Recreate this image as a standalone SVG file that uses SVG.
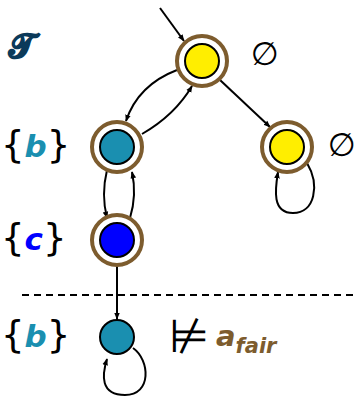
<svg xmlns="http://www.w3.org/2000/svg" width="358" height="397" viewBox="0 0 358 397">
<style>
.ring{fill:#fff;stroke:#7d5c2e;stroke-width:4}
.in{stroke:#000;stroke-width:2}
.e{fill:none;stroke:#000;stroke-width:2}
.br{font-family:"DejaVu Sans",sans-serif;font-size:37px;fill:#000}
.lab{font-family:"DejaVu Sans",sans-serif;font-size:31px;font-weight:bold;font-style:italic}
.sym{font-family:"DejaVu Sans",sans-serif;font-size:32px;fill:#000;text-anchor:middle}
</style>
<defs>
<marker id="ah" viewBox="0 0 10 10" refX="9" refY="5" markerWidth="7" markerHeight="7" orient="auto" markerUnits="userSpaceOnUse">
<path d="M0,1 L10,5 L0,9 z" fill="#000"/>
</marker>
</defs>
<rect width="358" height="397" fill="#fff"/>
<text x="9" y="58" style="font-family:'DejaVu Serif',serif;font-size:34px;font-weight:bold;fill:#0b3a5a;stroke:#0b3a5a;stroke-width:1.6">𝒯</text>
<line x1="22" y1="295" x2="358" y2="295" stroke="#000" stroke-width="2" stroke-dasharray="7,5"/>
<g id="connectors">
<line class="e" x1="160" y1="8" x2="184" y2="41" marker-end="url(#ah)"/>
<path class="e" d="M177,70 Q138,85 126,121" marker-end="url(#ah)"/>
<path class="e" d="M142,134 Q175,115 192,86" marker-end="url(#ah)"/>
<line class="e" x1="220" y1="80" x2="270" y2="127" marker-end="url(#ah)"/>
<path class="e" d="M307,163 C320,185 315,213 293,213 C272,213 275,190 278,172" marker-end="url(#ah)"/>
<path class="e" d="M107,170 Q101,195 107,218" marker-end="url(#ah)"/>
<path class="e" d="M130,218 Q137,195 132,172" marker-end="url(#ah)"/>
<line class="e" x1="117" y1="263" x2="117" y2="319" marker-end="url(#ah)"/>
<path class="e" d="M133,348 C150,360 152,395 125,395 C100,395 102,375 107,359" marker-end="url(#ah)"/>
</g>
<g id="s0">
<circle class="ring" cx="202" cy="61" r="25"/>
<circle class="in" cx="202" cy="61" r="17" fill="#ffee00"/>
<text class="sym" x="265" y="65">∅</text>
</g>
<g id="s1">
<circle class="ring" cx="117" cy="147" r="25"/>
<circle class="in" cx="117" cy="147" r="17" fill="#1a8fb0"/>
<text class="br" x="1" y="158">{<tspan class="lab" dy="-1" fill="#1a8fb0">b</tspan><tspan dy="1">}</tspan></text>
</g>
<g id="s2">
<circle class="ring" cx="287" cy="147" r="25"/>
<circle class="in" cx="287" cy="147" r="17" fill="#ffee00"/>
<text class="sym" x="342" y="156">∅</text>
</g>
<g id="s3">
<circle class="ring" cx="117" cy="240" r="25"/>
<circle class="in" cx="117" cy="240" r="17" fill="#0000ff"/>
<text class="br" x="1" y="251">{<tspan class="lab" dy="-1" fill="#0000ff">c</tspan><tspan dy="1">}</tspan></text>
</g>
<g id="s4">
<circle class="in" cx="117" cy="337" r="17" fill="#1a8fb0"/>
<text class="br" x="1" y="348">{<tspan class="lab" dy="-1" fill="#1a8fb0">b</tspan><tspan dy="1">}</tspan></text>
<text x="189" y="352" style="font-family:'DejaVu Sans',sans-serif;font-size:46px;fill:#000;text-anchor:middle">⊭</text>
<text x="216" y="346" style="font-family:'DejaVu Sans',sans-serif;font-size:29px;font-weight:bold;font-style:italic;fill:#7d5c2e">a<tspan font-size="21" dy="7">fair</tspan></text>
</g>
</svg>
